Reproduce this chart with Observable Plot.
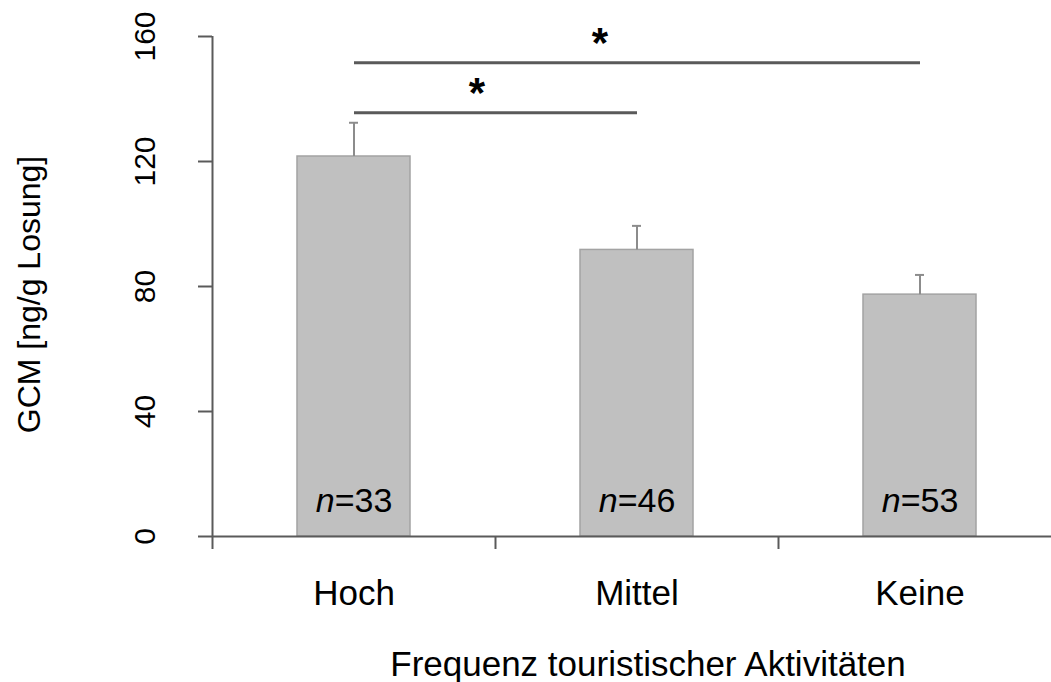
<!DOCTYPE html>
<html>
<head>
<meta charset="utf-8">
<script src="https://cdn.jsdelivr.net/npm/d3@7"></script>
<script src="https://cdn.jsdelivr.net/npm/@observablehq/plot@0.6"></script>
<style>
  html, body { margin: 0; padding: 0; background: #fff; }
  #chart svg { display: block; }
</style>
</head>
<body>
<div id="chart"></div>
<script>
// ---- data ----
const categories = ["Hoch", "Mittel", "Keine"];
const means = [121.6, 91.7, 77.4];
const upperErr = [132.4, 99.4, 83.7];
const sampleSizes = [33, 46, 53];
const yTicks = [0, 40, 80, 120, 160];
const sigFrom = ["Hoch", "Hoch"];
const sigTo = ["Mittel", "Keine"];
const sigLevel = [135.6, 151.6];
const sigMark = ["*", "*"];
const xTitle = "Frequenz touristischer Aktivitäten";
const yTitle = "GCM [ng/g Losung]";

const bars = categories.map((c, i) => ({cat: c, mean: means[i], upper: upperErr[i], n: sampleSizes[i]}));
const sig = sigFrom.map((f, i) => ({from: f, to: sigTo[i], y: sigLevel[i], mark: sigMark[i]}));

const axisColor = "#5a5a5a";
const font = "'Liberation Sans', Arial, Helvetica, sans-serif";

const chart = Plot.plot({
  width: 1051,
  height: 682,
  marginLeft: 212,
  marginRight: 0,
  marginTop: 36,
  marginBottom: 146,
  style: {fontFamily: font, background: "#fff", overflow: "visible", color: "#000"},
  x: {type: "band", domain: categories, range: [212, 1061], paddingInner: 0.6, paddingOuter: 0.3, axis: null},
  y: {domain: [0, 160], axis: null},
  marks: [
    // bars
    Plot.barY(bars, {x: "cat", y: "mean", fill: "#c0c0c0", stroke: "#a3a3a3", strokeWidth: 1.5}),
    // error bars
    Plot.ruleX(bars, {x: "cat", y1: "mean", y2: "upper", stroke: "#8c8c8c", strokeWidth: 2}),
    Plot.tickY(bars, {x: "cat", y: "upper", stroke: "#8c8c8c", strokeWidth: 2, insetLeft: 52, insetRight: 52}),
    // baseline (x axis line)
    Plot.ruleY([0], {stroke: axisColor, strokeWidth: 2}),
    // y axis line
    Plot.ruleX([categories[0]], {y1: 0, y2: 160, dx: -141.5, stroke: axisColor, strokeWidth: 2}),
    // y ticks
    Plot.axisY({ticks: yTicks, tickSize: 14, tickFormat: () => "", label: null, stroke: axisColor, strokeWidth: 2}),
    Plot.text(yTicks, {y: d => d, text: d => String(d), frameAnchor: "left", textAnchor: "middle", lineAnchor: "middle", rotate: -90, dx: -67, fontSize: 30, fill: "#000"}),
    // x ticks at category boundaries
    Plot.axisX({tickSize: 13, tickFormat: () => "", label: null, dx: -141.5, stroke: axisColor, strokeWidth: 2}),
    // x tick labels
    Plot.axisX({tickSize: 0, tickPadding: 44, fontSize: 35, label: null, fill: "#000"}),
    // n labels
    Plot.text(bars, {x: "cat", y: 0, text: d => "n=" + d.n, dy: -35, fontSize: 34, fill: "#000", className: "nlab"}),
    // significance lines and stars
    Plot.link(sig, {x1: "from", x2: "to", y1: "y", y2: "y", stroke: axisColor, strokeWidth: 3}),
    Plot.text([sig[0]], {x: "to", y: "y", text: "mark", dx: -160, dy: -19, fontSize: 42, fontWeight: "bold", fill: "#000"}),
    Plot.text([sig[1]], {x: "to", y: "y", text: "mark", dx: -320, dy: -19, fontSize: 42, fontWeight: "bold", fill: "#000"}),
    // axis titles
    Plot.text([xTitle], {x: () => "Mittel", frameAnchor: "bottom", textAnchor: "middle", lineAnchor: "middle", dx: 11, dy: 128, fontSize: 35, fill: "#000"}),
    Plot.text([yTitle], {frameAnchor: "left", textAnchor: "middle", lineAnchor: "middle", rotate: -90, dx: -183, dy: 8, fontSize: 32, fill: "#000"})
  ]
});

document.getElementById("chart").appendChild(chart);

// italic "n" in sample-size labels
chart.querySelectorAll(".nlab text").forEach(t => {
  const s = t.textContent;
  t.textContent = "";
  const it = document.createElementNS("http://www.w3.org/2000/svg", "tspan");
  it.setAttribute("font-style", "italic");
  it.textContent = s.slice(0, 1);
  t.appendChild(it);
  t.appendChild(document.createTextNode(s.slice(1)));
});
</script>
</body>
</html>
